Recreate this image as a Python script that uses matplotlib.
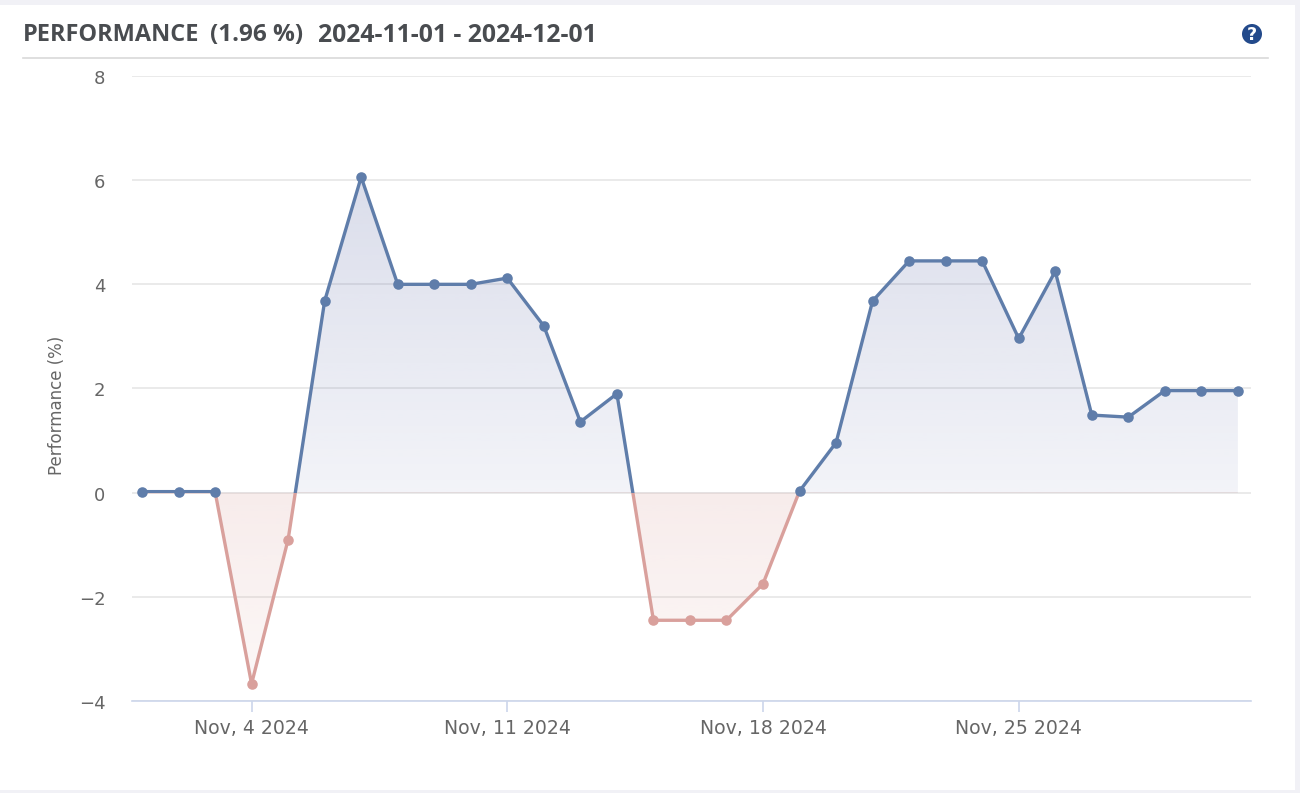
import numpy as np
import pandas as pd
import matplotlib
matplotlib.use("Agg")
import matplotlib.pyplot as plt
import matplotlib.dates as mdates
from matplotlib.patches import Circle, Rectangle
from matplotlib.lines import Line2D
from matplotlib.transforms import Affine2D, ScaledTranslation

plt.rcParams["font.family"] = ["DejaVu Sans"]

dates = pd.date_range("2024-11-01", "2024-12-01")
performance = [0.02, 0.02, 0.02, -3.67, -0.9, 3.68, 6.06, 4.0, 4.0, 4.0, 4.12, 3.2, 1.36, 1.9,
               -2.45, -2.45, -2.45, -1.75, 0.03, 0.96, 3.68, 4.45, 4.45, 4.45, 2.96, 4.25,
               1.49, 1.45, 1.96, 1.96, 1.96]
tick_dates = ["2024-11-04", "2024-11-11", "2024-11-18", "2024-11-25"]
tick_labels = ["Nov, 4 2024", "Nov, 11 2024", "Nov, 18 2024", "Nov, 25 2024"]
y_ticks = [-4, -2, 0, 2, 4, 6, 8]
title_parts = ["PERFORMANCE", "(1.96 %)", "2024-11-01 - 2024-12-01"]

W, H = 1300, 793
BLUE = "#5f7daa"
BLUE_FILL = "#6672ab"
RED = "#d9a09c"
GRID = "#e6e6e6"
AXIS = "#ccd6eb"
TXT = "#666666"

fig = plt.figure(figsize=(W / 100, H / 100), dpi=100, facecolor="#f1f1f6")
px = Affine2D().scale(1 / W, -1 / H).translate(0, 1) + fig.transFigure

# card and header
fig.add_artist(Rectangle((0, 5), 1295, 785, transform=px, facecolor="white", edgecolor="none", zorder=-5))
fig.add_artist(Line2D([23, 1268], [58, 58], transform=px, color="#d9d9d9", lw=1.2))
for part, left, size in zip(title_parts, (23, 210, 318), (16.9, 17.5, 17.8)):
    fig.text(left / W, 1 - 35 / H, part, fontsize=size, fontweight="bold", family="Open Sans",
             color="#494c50", va="center", ha="left")
fig.add_artist(Circle((1252, 34), 10, transform=px, facecolor="#234a8b", edgecolor="none"))
fig.text(1252 / W, 1 - 34.5 / H, "?", fontsize=12.5, fontweight="bold", color="white",
         family="DejaVu Sans", ha="center", va="center")

ax = fig.add_axes([132 / W, 1 - 701 / H, (1251 - 132) / W, (701 - 76) / H], facecolor="none")
x = mdates.date2num(dates)
y = np.array(performance)
x0 = x[0] - 10 / 36.53
x1 = x[0] + (1251 - 142) / 36.53
ymin, ymax = -4, 8

# gridlines
ax.set_yticks(y_ticks)
ax.grid(axis="y", color=GRID, lw=1.2, zorder=0)
ax.set_axisbelow(True)

# gradient fills clipped to the area between the series and zero
poly = ax.fill_between(x, y, 0, facecolor="none", edgecolor="none")
clip = poly.get_paths()[0]


def gradient(rgb, a_top, a_bottom, lo, hi):
    alpha = np.linspace(a_top, a_bottom, 200)
    img = np.zeros((200, 1, 4))
    img[..., :3] = matplotlib.colors.to_rgb(rgb)
    img[..., 3] = alpha[:, None]
    im = ax.imshow(img, extent=[x0, x1, lo, hi], aspect="auto", origin="upper", zorder=1,
                   interpolation="bilinear")
    im.set_clip_path(clip, ax.transData)


gradient(BLUE_FILL, 0.24, 0.08, 0, 6.1)
gradient(RED, 0.20, 0.08, -3.7, 0)

# lines, split at zero
blue_clip = Rectangle((x0, 0), x1 - x0, ymax, transform=ax.transData)
red_clip = Rectangle((x0, ymin), x1 - x0, -ymin, transform=ax.transData)
l_red, = ax.plot(x, y, color=RED, lw=2.4, zorder=3, solid_joinstyle="round")
l_red.set_clip_path(red_clip)
l_blue, = ax.plot(x, y, color=BLUE, lw=2.4, zorder=3, solid_joinstyle="round")
l_blue.set_clip_path(blue_clip)

neg = y < 0
ax.plot(x[neg], y[neg], ls="none", marker="o", ms=7.6, mfc=RED, mec="none", zorder=4, clip_on=False)
ax.plot(x[~neg], y[~neg], ls="none", marker="o", ms=7.6, mfc=BLUE, mec="none", zorder=4, clip_on=False)

ax.set_xlim(x0, x1)
ax.set_ylim(ymin, ymax)

for s in ("top", "left", "right"):
    ax.spines[s].set_visible(False)
ax.spines["bottom"].set_color(AXIS)
ax.spines["bottom"].set_linewidth(1.2)

ax.set_xticks(mdates.date2num(pd.to_datetime(tick_dates)))
ax.set_xticklabels(tick_labels)
ax.tick_params(axis="x", length=8, width=1.2, color=AXIS, labelcolor=TXT, labelsize=13.6, pad=5)
ax.tick_params(axis="y", length=0, labelcolor=TXT, labelsize=13.0, pad=19)
shift = ScaledTranslation(0, -3 / 100, fig.dpi_scale_trans)
for lab in ax.get_yticklabels():
    lab.set_va("center")
    lab.set_transform(lab.get_transform() + shift)

fig.text(57 / W, 1 - 405 / H, "Performance (%)", rotation=90, fontsize=12.0, color=TXT,
         ha="center", va="center")

fig.savefig("out.png", dpi=100, facecolor=fig.get_facecolor())
